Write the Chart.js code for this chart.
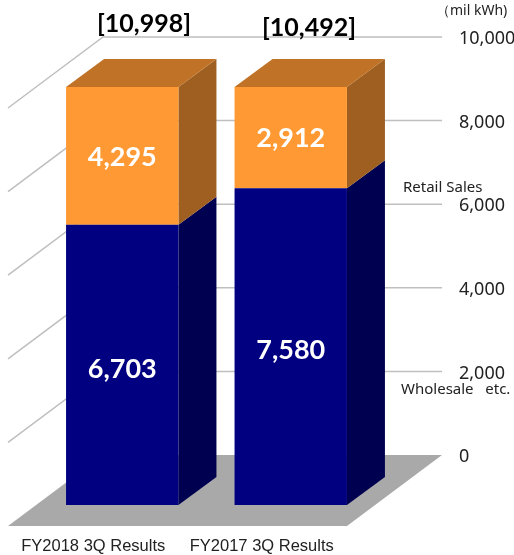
<!DOCTYPE html>
<html>
<head>
<meta charset="utf-8">
<script src="https://cdn.jsdelivr.net/npm/chart.js@4"></script>
<style>
    body { margin: 0; background: #fff; }
</style>
</head>
<body>
<canvas id="plot-sales" width="514" height="555"></canvas>
<script>
const categories = ['FY2018 3Q Results', 'FY2017 3Q Results'];
const wholesale = [6703, 7580];
const retail = [4295, 2912];
const totals = ['[10,998]', '[10,492]'];
const tickValues = [0, 2000, 4000, 6000, 8000, 10000];
const tickLabels = ['0', '2,000', '4,000', '6,000', '8,000', '10,000'];

const depthX = 38, depthY = 28;       // bar side/top faces
const wallDy = 50;                    // back wall sits this far above the front plane
const wallLeft = 103, wallRight = 442;
const sideX = 95, sideY = 71;         // left wall / floor diagonal
const faceColors = [
    { side: '#000050', top: '#000060' },
    { side: '#9e5f20', top: '#c07326' }
];

function poly(ctx, pts, color) {
    ctx.fillStyle = color;
    ctx.beginPath();
    pts.forEach((p, i) => i ? ctx.lineTo(p[0], p[1]) : ctx.moveTo(p[0], p[1]));
    ctx.closePath();
    ctx.fill();
}

const box3d = {
    id: 'box3d',
    beforeDatasetsDraw(chart) {
        const ctx = chart.ctx;
        const y = chart.scales.y;
        const area = chart.chartArea;

        // floor
        const y0 = y.getPixelForValue(0) - wallDy;
        poly(ctx, [[wallLeft - sideX, y0 + sideY], [wallRight - sideX, y0 + sideY],
            [wallRight, y0], [wallLeft, y0]], '#a9a9a9');

        // grid on back and left wall
        ctx.strokeStyle = '#bfbfbf';
        ctx.lineWidth = 1.5;
        tickValues.forEach(v => {
            if (v === 0) return;
            const py = y.getPixelForValue(v) - wallDy;
            ctx.beginPath();
            ctx.moveTo(wallLeft - sideX, py + sideY);
            ctx.lineTo(wallLeft, py);
            ctx.lineTo(wallRight, py);
            ctx.stroke();
        });

        // side and top faces of the boxes
        chart.data.datasets.forEach((ds, d) => {
            chart.getDatasetMeta(d).data.forEach(bar => {
                const right = bar.x + bar.width / 2;
                const left = bar.x - bar.width / 2;
                const top = Math.max(bar.y, area.top);
                const base = Math.min(bar.base, area.bottom);
                poly(ctx, [[right, base], [right + depthX, base - depthY],
                    [right + depthX, top - depthY], [right, top]], faceColors[d].side);
                if (bar.y <= area.top || d === chart.data.datasets.length - 1) {
                    poly(ctx, [[left, top], [right, top],
                        [right + depthX, top - depthY], [left + depthX, top - depthY]], faceColors[d].top);
                }
            });
        });
    },
    afterDatasetsDraw(chart) {
        const ctx = chart.ctx;
        const y = chart.scales.y;
        const area = chart.chartArea;
        ctx.textBaseline = 'middle';

        // value labels in the visible part of each segment
        ctx.fillStyle = '#fff';
        ctx.textAlign = 'center';
        ctx.font = 'bold 27px Lato';
        chart.data.datasets.forEach((ds, d) => {
            chart.getDatasetMeta(d).data.forEach((bar, i) => {
                const top = Math.max(bar.y, area.top);
                const nudge = d === 0 ? 4 : 1;
                ctx.fillText(ds.data[i].toLocaleString('en-US'), bar.x, (top + bar.base) / 2 + nudge);
            });
        });

        // totals above the boxes
        ctx.fillStyle = '#000';
        ctx.font = 'bold 25px Lato';
        ctx.fillText(totals[0], 144, 24);
        ctx.fillText(totals[1], 309, 28);

        // value axis
        ctx.textAlign = 'left';
        ctx.font = '18px "Noto Sans"';
        ctx.fillStyle = '#222';
        tickValues.forEach((v, i) => {
            ctx.fillText(tickLabels[i], 459, y.getPixelForValue(v) - wallDy + 2);
        });

        ctx.font = '14px "Noto Sans"';
        ctx.fillText('（mil kWh)', 436, 11);
        ctx.font = '15px "Noto Sans"';
        ctx.fillText('Retail Sales', 403, 188);
        ctx.fillText('Wholesale   etc.', 401, 390);
    }
};

const ctx = document.getElementById('plot-sales').getContext('2d');
new Chart(ctx, {
    type: 'bar',
    data: {
        labels: categories,
        datasets: [{
            label: 'Wholesale etc.',
            data: wholesale,
            backgroundColor: '#000080'
        }, {
            label: 'Retail Sales',
            data: retail,
            backgroundColor: '#ff9933'
        }]
    },
    options: {
        responsive: false,
        animation: false,
        layout: { padding: { left: 38, right: 139, top: 87, bottom: 0 } },
        datasets: { bar: { categoryPercentage: 1, barPercentage: 0.667 } },
        plugins: { legend: false, tooltip: { enabled: false } },
        scales: {
            x: {
                stacked: true,
                grid: { display: false },
                border: { display: false },
                afterFit(scale) { scale.height = 50; },
                ticks: {
                    padding: 24,
                    labelOffset: -29,
                    maxRotation: 0,
                    autoSkip: false,
                    color: '#222',
                    font: { family: 'Liberation Sans', size: 16.5 }
                }
            },
            y: {
                stacked: true,
                display: false,
                min: 0,
                max: 10000
            }
        }
    },
    plugins: [box3d]
});
</script>
</body>
</html>
